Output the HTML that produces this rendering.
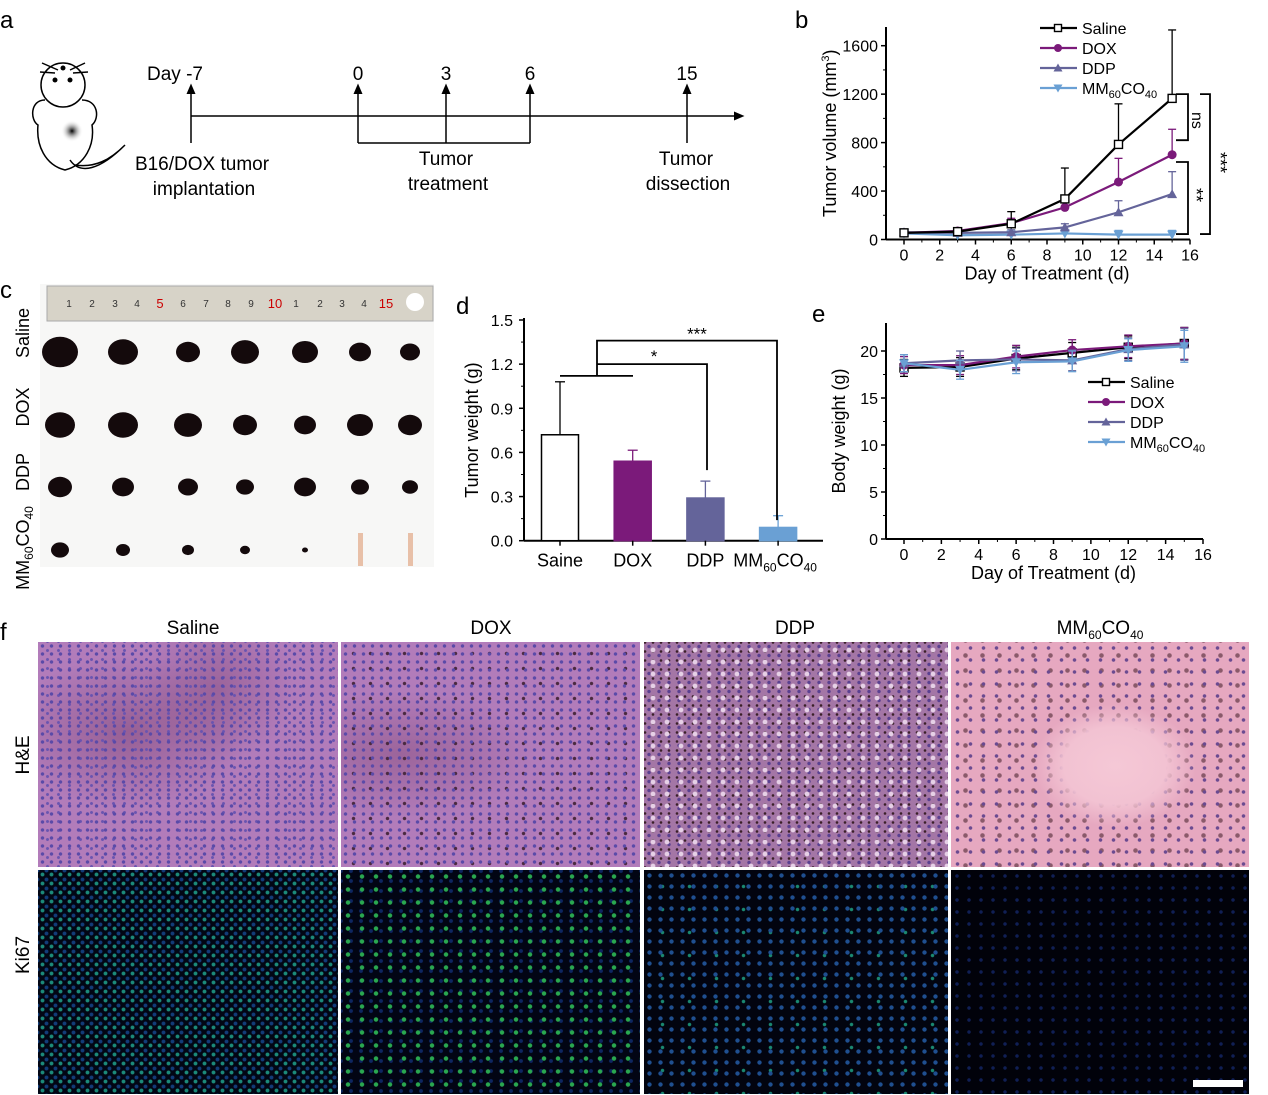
<!DOCTYPE html>
<html><head><meta charset="utf-8">
<style>
body{margin:0;background:#fff;width:1268px;height:1095px;overflow:hidden;position:relative;font-family:"Liberation Sans",sans-serif;}
svg text{font-family:"Liberation Sans",sans-serif;}
.img{position:absolute;}
.he1{background:
 radial-gradient(circle,#5a4aa8 1.4px,transparent 2px) 0 0/9px 8px,
 radial-gradient(circle,#6a54b0 1.2px,transparent 1.8px) 4px 4px/11px 9px,
 radial-gradient(ellipse at 30% 40%,rgba(90,30,60,.3),transparent 40%),
 radial-gradient(ellipse at 60% 20%,rgba(90,30,60,.25),transparent 30%),
 #b27cba;}
.he2{background:
 radial-gradient(circle,#5a4aa8 1.4px,transparent 2px) 0 0/9px 8px,
 radial-gradient(circle,#4a2a40 1.4px,transparent 2px) 4px 4px/17px 15px,
 radial-gradient(ellipse at 20% 50%,rgba(90,30,60,.25),transparent 40%),
 #b27cba;}
.he3{background:
 radial-gradient(circle,#e6d0e6 2px,transparent 2.8px) 2px 2px/14px 12px,
 radial-gradient(circle,#5a4090 1.4px,transparent 2px) 0 0/10px 9px,
 radial-gradient(circle,#3a2028 1px,transparent 1.6px) 5px 5px/8px 9px,
 #a476a6;}
.he4{background:
 radial-gradient(ellipse at 55% 55%,#f5c8d6 0,#f2c2d2 22%,transparent 35%),
 radial-gradient(circle,#6a4a90 1.4px,transparent 2.1px) 0 0/13px 12px,
 radial-gradient(circle,#8a5a6a 1.8px,transparent 2.7px) 6px 6px/17px 15px,
 #e6a8c0;}
.k1{background:
 radial-gradient(circle,#1c8a7a 1.6px,transparent 2.3px) 0 0/9px 9px,
 radial-gradient(circle,#123c78 1.6px,transparent 2.3px) 4px 5px/9px 9px,
 #020614;}
.k2{background:
 radial-gradient(circle,#2aa850 1.8px,transparent 2.6px) 0 0/14px 13px,
 radial-gradient(circle,#0e2660 1.6px,transparent 2.3px) 5px 6px/10px 10px,
 #020514;}
.k3{background:
 radial-gradient(circle,#1f4f90 1.8px,transparent 2.5px) 0 0/11px 11px,
 radial-gradient(circle,#1a8870 1.4px,transparent 2.1px) 5px 5px/27px 23px,
 #02040f;}
.k4{background:
 radial-gradient(circle,#101f55 1.4px,transparent 2.1px) 0 0/12px 12px,
 #01020a;}
</style></head>
<body>
<div class="img he1" style="left:38px;top:642px;width:300px;height:225px"></div>
<div class="img he2" style="left:341px;top:642px;width:299px;height:225px"></div>
<div class="img he3" style="left:644px;top:642px;width:304px;height:225px"></div>
<div class="img he4" style="left:951px;top:642px;width:298px;height:225px"></div>
<div class="img k1" style="left:38px;top:870px;width:300px;height:224px"></div>
<div class="img k2" style="left:341px;top:870px;width:299px;height:224px"></div>
<div class="img k3" style="left:644px;top:870px;width:304px;height:224px"></div>
<div class="img k4" style="left:951px;top:870px;width:298px;height:224px"></div>
<div class="img" style="left:1193px;top:1080px;width:50px;height:7px;background:#fff"></div>

<svg id="fig" width="1268" height="1095" style="position:absolute;left:0;top:0" xmlns="http://www.w3.org/2000/svg">
<g font-size="19">
<text x="0" y="28" font-size="24">a</text>
<g fill="none" stroke="#000" stroke-width="1.5">
<ellipse cx="63" cy="85" rx="22" ry="22" fill="#fff"/>
<path d="M45 100 C30 100,30 120,38 125 C36 145,45 165,65 170 C85 165,95 145,92 125 C100 118,98 100,82 100"/>
<path d="M70 160 C80 175,100 170,125 145 C110 160,95 168,75 165"/>
<path d="M42 63 L58 70 M40 72 L55 73 M85 63 L70 70 M88 72 L73 73"/>
</g>
<circle cx="55" cy="80" r="2.5"/>
<circle cx="70" cy="80" r="2.5"/>
<circle cx="63" cy="68" r="2.5"/>
<circle cx="72" cy="131" r="11" fill="url(#tum)"/>
<defs><radialGradient id="tum"><stop offset="0" stop-color="#000"/><stop offset="1" stop-color="#fff" stop-opacity="0"/></radialGradient>
<marker id="ah" markerWidth="8" markerHeight="8" refX="4" refY="4" orient="auto"><path d="M0,1 L7,4 L0,7 z" fill="#000"/></marker></defs>
<g stroke="#000" stroke-width="1.5" fill="none">
<line x1="191" y1="116" x2="740" y2="116" marker-end="url(#ah)"/>
<line x1="191" y1="143" x2="191" y2="88" marker-end="url(#ah)"/>
<line x1="358" y1="143" x2="358" y2="88" marker-end="url(#ah)"/>
<line x1="446" y1="143" x2="446" y2="88" marker-end="url(#ah)"/>
<line x1="530" y1="143" x2="530" y2="88" marker-end="url(#ah)"/>
<line x1="687" y1="143" x2="687" y2="88" marker-end="url(#ah)"/>
<line x1="358" y1="143" x2="530" y2="143"/>
</g>
<text x="175" y="80" text-anchor="middle">Day -7</text>
<text x="358" y="80" text-anchor="middle">0</text>
<text x="446" y="80" text-anchor="middle">3</text>
<text x="530" y="80" text-anchor="middle">6</text>
<text x="687" y="80" text-anchor="middle">15</text>
<text x="202" y="170" text-anchor="middle">B16/DOX tumor</text>
<text x="204" y="195" text-anchor="middle">implantation</text>
<text x="446" y="165" text-anchor="middle">Tumor</text>
<text x="448" y="190" text-anchor="middle">treatment</text>
<text x="686" y="165" text-anchor="middle">Tumor</text>
<text x="688" y="190" text-anchor="middle">dissection</text>
</g>

<g>
<text x="0" y="298" font-size="24">c</text>
<rect x="40" y="284" width="394" height="283" fill="#f7f7f6"/>
<rect x="47" y="286" width="386" height="35" fill="#d7d3c8" stroke="#aaa"/>
<circle cx="415" cy="302" r="9" fill="#fff"/>
<g font-size="10" fill="#333" text-anchor="middle">
<text x="69" y="307">1</text><text x="92" y="307">2</text><text x="115" y="307">3</text><text x="137" y="307">4</text><text x="160" y="308" fill="#c00" font-size="13">5</text><text x="183" y="307">6</text><text x="206" y="307">7</text><text x="228" y="307">8</text><text x="251" y="307">9</text><text x="275" y="308" fill="#c00" font-size="13">10</text><text x="296" y="307">1</text><text x="320" y="307">2</text><text x="342" y="307">3</text><text x="364" y="307">4</text><text x="386" y="308" fill="#c00" font-size="13">15</text>
</g>
<g fill="#140a0c" id="tumors"></g>
<g font-size="18">
<text transform="translate(29,333) rotate(-90)" text-anchor="middle">Saline</text>
<text transform="translate(29,407) rotate(-90)" text-anchor="middle">DOX</text>
<text transform="translate(29,472) rotate(-90)" text-anchor="middle">DDP</text>
<text transform="translate(29,548) rotate(-90)" text-anchor="middle">MM<tspan font-size="12" dy="4">60</tspan><tspan dy="-4">CO</tspan><tspan font-size="12" dy="4">40</tspan></text>
</g>
</g>

<g font-size="19">
<text x="0" y="640" font-size="24">f</text>
<text x="193" y="634" text-anchor="middle">Saline</text>
<text x="491" y="634" text-anchor="middle">DOX</text>
<text x="795" y="634" text-anchor="middle">DDP</text>
<text x="1100" y="634" text-anchor="middle">MM<tspan font-size="12" dy="5">60</tspan><tspan dy="-5">CO</tspan><tspan font-size="12" dy="5">40</tspan></text>
<text transform="translate(29,755) rotate(-90)" text-anchor="middle">H&amp;E</text>
<text transform="translate(29,955) rotate(-90)" text-anchor="middle">Ki67</text>
</g>

<g id="chartB"></g>
<g id="chartD"></g>
<g id="chartE"></g>
</svg>

<script>
// ----- Panel b data -----
const daysB = [0, 3, 6, 9, 12, 15];
const salineVol = [55, 65, 130, 335, 785, 1165];
const salineVolErr = [20, 20, 100, 255, 335, 565];
const doxVol = [55, 70, 135, 265, 475, 700];
const doxVolErr = [15, 15, 40, 60, 195, 210];
const ddpVol = [60, 55, 60, 100, 225, 375];
const ddpVolErr = [15, 10, 20, 30, 95, 185];
const mmVol = [50, 35, 40, 50, 40, 40];
const mmVolErr = [15, 10, 15, 20, 35, 35];
const xTicksB = [0, 2, 4, 6, 8, 10, 12, 14, 16];
const yTicksB = [0, 400, 800, 1200, 1600];
// ----- Panel d data -----
const groupsD = ["Saine", "DOX", "DDP", "MM"];
const weightD = [0.72, 0.54, 0.29, 0.09];
const weightErrD = [0.36, 0.075, 0.115, 0.08];
const yTicksD = [0.0, 0.3, 0.6, 0.9, 1.2, 1.5];
// ----- Panel e data -----
const daysE = [0, 3, 6, 9, 12, 15];
const salineBW = [18.2, 18.3, 19.2, 19.8, 20.4, 20.8];
const doxBW = [18.5, 18.5, 19.4, 20.1, 20.5, 20.8];
const ddpBW = [18.7, 19.0, 19.1, 19.0, 20.2, 20.7];
const mmBW = [18.7, 18.0, 18.8, 18.9, 20.1, 20.5];
const bwErr = [0.9, 1.0, 1.2, 1.1, 1.2, 1.7];
const xTicksE = [0, 2, 4, 6, 8, 10, 12, 14, 16];
const yTicksE = [0, 5, 10, 15, 20];
const tumorRx = [[18,15,12,14,13,11,10],[15,15,14,12,11,13,12],[12,11,10,9,11,9,8],[9,7,6,5,3,0,0]];

const NS = "http://www.w3.org/2000/svg";
function mk(parent, tag, attrs, text){
  const e = document.createElementNS(NS, tag);
  for (const k in attrs) e.setAttribute(k, attrs[k]);
  if (text !== undefined) e.textContent = text;
  parent.appendChild(e); return e;
}
const colors = {saline:"#000", dox:"#7b1a7a", ddp:"#64649a", mm:"#6aa0d4"};

(function(){
  const g = document.getElementById("tumors");
  const xs=[60,123,188,245,305,360,410], ys=[352,425,487,550];
  tumorRx.forEach((row,r)=>row.forEach((rx,i)=>{
    if(!rx){ const l=mk(g,"rect",{x:xs[i]-2,y:533,width:5,height:33,fill:"#e8c0a8"});
      
       return; }
    const e = mk(g,"ellipse",{cx:xs[i],cy:ys[r],rx:rx,ry:rx*0.85});
    
    
  }));
})();

function lineChart(gid, cfg){
  const g = document.getElementById(gid);
  const sx = v => cfg.x0 + (v - cfg.xmin) / (cfg.xmax - cfg.xmin) * (cfg.x1 - cfg.x0);
  const sy = v => cfg.y0 - (v - cfg.ymin) / (cfg.ymax - cfg.ymin) * (cfg.y0 - cfg.y1);
  mk(g,"line",{x1:cfg.axL,y1:cfg.axT,x2:cfg.axL,y2:cfg.y0,stroke:"#000","stroke-width":2});
  mk(g,"line",{x1:cfg.axL,y1:cfg.y0,x2:cfg.axR,y2:cfg.y0,stroke:"#000","stroke-width":2});
  cfg.xticks.forEach((t,k)=>{
    mk(g,"line",{x1:sx(t),y1:cfg.y0,x2:sx(t),y2:cfg.y0+5,stroke:"#000","stroke-width":1.5});
    if(k<cfg.xticks.length-1) mk(g,"line",{x1:sx(t+1),y1:cfg.y0,x2:sx(t+1),y2:cfg.y0+3,stroke:"#000","stroke-width":1});
    const tl = mk(g,"text",{x:sx(t),y:cfg.y0+21,"font-size":16,"text-anchor":"middle"},t);
    
    
  });
  cfg.yticks.forEach((t,k)=>{
    mk(g,"line",{x1:cfg.axL,y1:sy(t),x2:cfg.axL-5,y2:sy(t),stroke:"#000","stroke-width":1.5});
    if(k<cfg.yticks.length-1){ const h=(cfg.yticks[1]-cfg.yticks[0])/2;
      mk(g,"line",{x1:cfg.axL,y1:sy(t+h),x2:cfg.axL-3,y2:sy(t+h),stroke:"#000","stroke-width":1}); }
    const tl = mk(g,"text",{x:cfg.axL-8,y:sy(t)+6,"font-size":16,"text-anchor":"end"},t);
    
    
  });
  const xt = mk(g,"text",{x:(cfg.x0+cfg.x1)/2,y:cfg.y0+40,"font-size":18,"text-anchor":"middle"},"Day of Treatment (d)");
  
  
  const yt = mk(g,"text",{transform:`translate(${cfg.ytx},${(cfg.y0+cfg.axT)/2}) rotate(-90)`,"font-size":18,"text-anchor":"middle"});
  yt.innerHTML = cfg.ytitle;
  
  
  cfg.series.forEach(s=>{
    const eg = mk(g,"g",{stroke:s.c,"stroke-width":1.3});
    s.v.forEach((v,i)=>{
      const e = s.err[i];
      mk(eg,"line",{x1:sx(cfg.days[i]),y1:sy(v),x2:sx(cfg.days[i]),y2:sy(v+e)});
      mk(eg,"line",{x1:sx(cfg.days[i])-4,y1:sy(v+e),x2:sx(cfg.days[i])+4,y2:sy(v+e)});
      if(cfg.both){
        mk(eg,"line",{x1:sx(cfg.days[i]),y1:sy(v),x2:sx(cfg.days[i]),y2:sy(v-e)});
        mk(eg,"line",{x1:sx(cfg.days[i])-4,y1:sy(v-e),x2:sx(cfg.days[i])+4,y2:sy(v-e)});
      }
    });
    const pts = s.v.map((v,i)=>sx(cfg.days[i])+","+sy(v)).join(" ");
    const pl = mk(g,"polyline",{points:pts,fill:"none",stroke:s.c,"stroke-width":2.2});
    
    
    s.v.forEach((v,i)=>{ marker(g,s,sx(cfg.days[i]),sy(v),4); });
  });
  cfg.legendOrder.forEach((s,j)=>{
    const ly = cfg.lgY + j*20, lx = cfg.lgX;
    const lg = mk(g,"g",{});
    
    
    mk(lg,"line",{x1:lx,y1:ly,x2:lx+37,y2:ly,stroke:s.c,"stroke-width":2.2});
    marker(lg,s,lx+18,ly,3.5);
    const t = mk(lg,"text",{x:lx+42,y:ly+6,"font-size":16});
    t.innerHTML = s.label;
  });
}
function marker(g,s,x,y,r){
  let m;
  if(s.key==="saline") m = mk(g,"rect",{x:x-r,y:y-r,width:2*r,height:2*r,fill:"#fff",stroke:"#000","stroke-width":1.4});
  else if(s.key==="dox") m = mk(g,"circle",{cx:x,cy:y,r:r+0.5,fill:s.c});
  else if(s.key==="ddp") m = mk(g,"path",{d:`M${x},${y-r-1} L${x+r+1},${y+r} L${x-r-1},${y+r} Z`,fill:s.c});
  else m = mk(g,"path",{d:`M${x},${y+r+1} L${x+r+1},${y-r} L${x-r-1},${y-r} Z`,fill:s.c});
  
  
}
const MMlabel = 'MM<tspan font-size="11" dy="4">60</tspan><tspan dy="-4">CO</tspan><tspan font-size="11" dy="4">40</tspan>';

const serB = [
 {key:"saline",c:colors.saline,v:salineVol,err:salineVolErr,label:"Saline"},
 {key:"dox",c:colors.dox,v:doxVol,err:doxVolErr,label:"DOX"},
 {key:"ddp",c:colors.ddp,v:ddpVol,err:ddpVolErr,label:"DDP"},
 {key:"mm",c:colors.mm,v:mmVol,err:mmVolErr,label:MMlabel}];
lineChart("chartB",{x0:904,x1:1190,xmin:0,xmax:16,y0:239.5,y1:45.7,ymin:0,ymax:1600,axL:886,axR:1190,axT:27,
  xticks:xTicksB,yticks:yTicksB,days:daysB,series:serB.slice().reverse(),legendOrder:serB,lgX:1040,lgY:28,ytx:836,
  ytitle:'Tumor volume (mm<tspan font-size="11" dy="-7">3</tspan><tspan dy="7">)</tspan>'});
(function(){
  const g=document.getElementById("chartB");
  mk(g,"text",{x:795,y:28,"font-size":24},"b");
  const sy=v=>239.5-v/1600*193.8;
  const b=mk(g,"path",{d:`M1176 ${sy(1200)} H1188 V${sy(820)} H1176 M1176 ${sy(640)} H1188 V${sy(45)} H1176 M1200 ${sy(1200)} H1210 V${sy(45)} H1200`,fill:"none",stroke:"#000","stroke-width":1.8});
  
  
  mk(g,"text",{transform:"translate(1192,112) rotate(90)","font-size":16},"ns");
  mk(g,"text",{transform:"translate(1190,188) rotate(90)","font-size":18},"**");
  mk(g,"text",{transform:"translate(1214,152) rotate(90)","font-size":18},"***");
})();

const serE = [
 {key:"saline",c:colors.saline,v:salineBW,err:bwErr,label:"Saline"},
 {key:"dox",c:colors.dox,v:doxBW,err:bwErr,label:"DOX"},
 {key:"ddp",c:colors.ddp,v:ddpBW,err:bwErr,label:"DDP"},
 {key:"mm",c:colors.mm,v:mmBW,err:bwErr,label:MMlabel}];
lineChart("chartE",{x0:904,x1:1203,xmin:0,xmax:16,y0:539,y1:351,ymin:0,ymax:20,axL:886,axR:1203,axT:323,both:true,
  xticks:xTicksE,yticks:yTicksE,days:daysE,series:serE,legendOrder:serE,lgX:1088,lgY:382,ytx:845,
  ytitle:'Body weight (g)'});
mk(document.getElementById("chartE"),"text",{x:812,y:322,"font-size":24},"e");

(function(){
  const g=document.getElementById("chartD");
  mk(g,"text",{x:456,y:314,"font-size":24},"d");
  const y0=540.7, y1=320, ymax=1.5;
  const sy=v=>y0-v/ymax*(y0-y1);
  const sx=i=>560+i*72.7;
  const fills=["#fff",colors.dox,colors.ddp,colors.mm];
  const strokes=["#000","#7b1a7a","#64649a","#6aa0d4"];
  mk(g,"line",{x1:524,y1:318,x2:524,y2:y0,stroke:"#000","stroke-width":2});
  mk(g,"line",{x1:524,y1:y0,x2:823,y2:y0,stroke:"#000","stroke-width":2});
  yTicksD.forEach((t,k)=>{
    mk(g,"line",{x1:524,y1:sy(t),x2:519,y2:sy(t),stroke:"#000","stroke-width":1.5});
    if(k<yTicksD.length-1) mk(g,"line",{x1:524,y1:sy(t+0.15),x2:521,y2:sy(t+0.15),stroke:"#000","stroke-width":1});
    const tl=mk(g,"text",{x:513,y:sy(t)+6,"font-size":16,"text-anchor":"end"},t.toFixed(1));
    
    
  });
  const yt=mk(g,"text",{transform:"translate(478,430) rotate(-90)","font-size":18,"text-anchor":"middle"},"Tumor weight (g)");
  
  
  weightD.forEach((v,i)=>{
    const x=sx(i);
    mk(g,"line",{x1:x,y1:sy(v),x2:x,y2:sy(v+weightErrD[i]),stroke:strokes[i],"stroke-width":1.3});
    mk(g,"line",{x1:x-5,y1:sy(v+weightErrD[i]),x2:x+5,y2:sy(v+weightErrD[i]),stroke:strokes[i],"stroke-width":1.3});
    const b=mk(g,"rect",{x:x-18.5,y:sy(v),width:37,height:y0-sy(v),fill:fills[i],stroke:strokes[i],"stroke-width":1.5});
    
    
    mk(g,"line",{x1:x,y1:y0,x2:x,y2:y0+5,stroke:"#000","stroke-width":1.5});
    const t=mk(g,"text",{x:x-(i===3?3:0),y:y0+26,"font-size":18,"text-anchor":"middle"});
    t.innerHTML = i===3 ? 'MM<tspan font-size="12" dy="5">60</tspan><tspan dy="-5">CO</tspan><tspan font-size="12" dy="5">40</tspan>' : groupsD[i];
    
    
  });
  const br=mk(g,"path",{d:`M560 ${sy(1.12)} H633 M597 ${sy(1.12)} V${sy(1.36)} H777 V${sy(0.14)} M597 ${sy(1.20)} H707 V${sy(0.48)}`,fill:"none",stroke:"#000","stroke-width":1.8});
  
  
  mk(g,"text",{x:654,y:sy(1.20)-2,"font-size":17,"text-anchor":"middle"},"*");
  mk(g,"text",{x:697,y:sy(1.36)-1,"font-size":17,"text-anchor":"middle"},"***");
})();
</script>
</body></html>
